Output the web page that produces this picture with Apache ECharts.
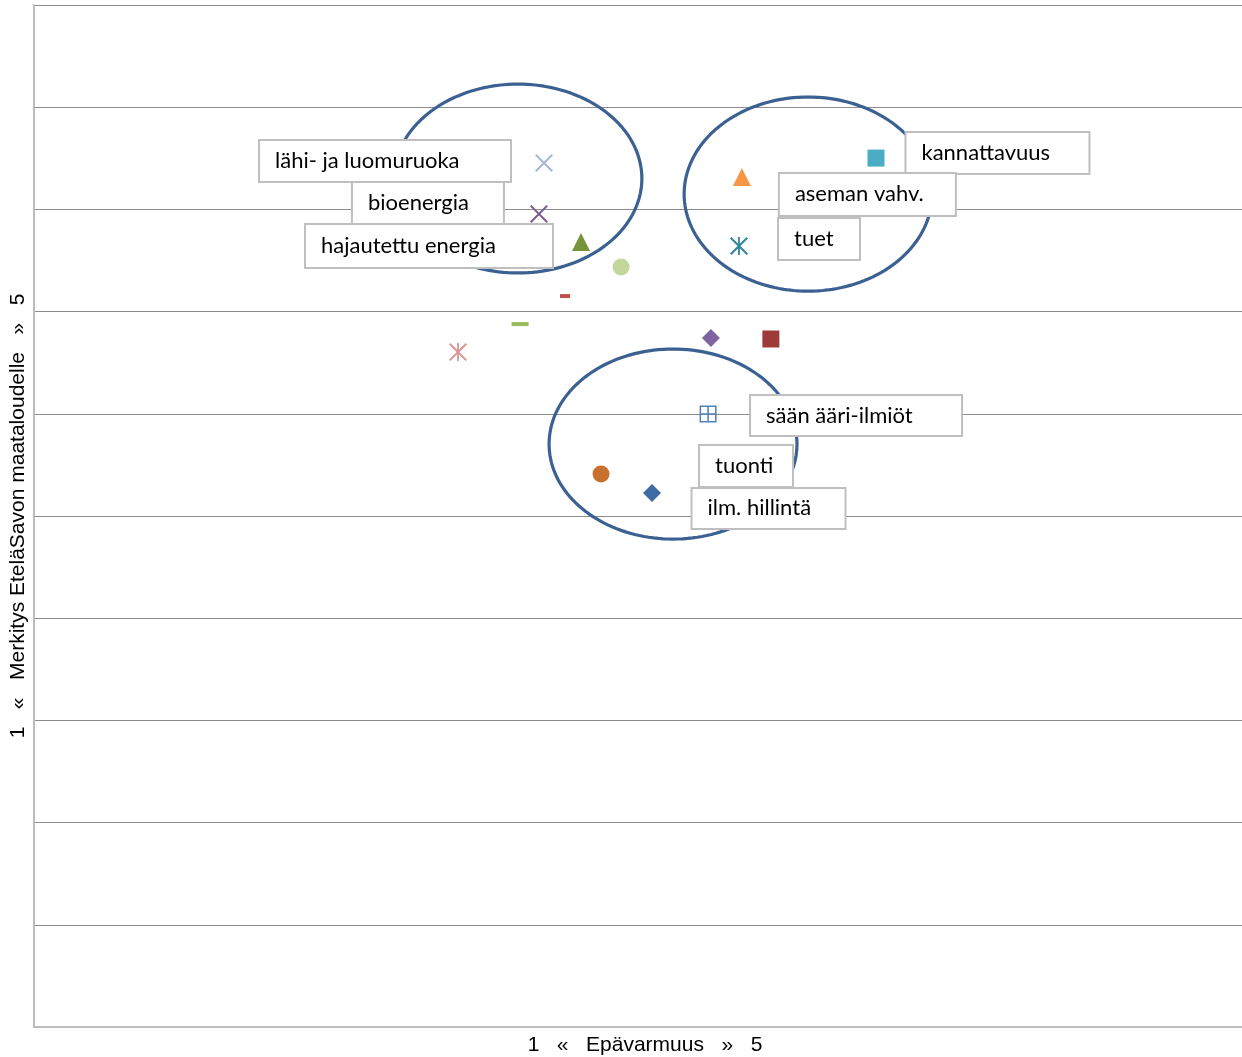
<!DOCTYPE html>
<html><head><meta charset="utf-8">
<script src="https://cdn.jsdelivr.net/npm/echarts@6/dist/echarts.min.js"></script>
<style>html,body{margin:0;padding:0;background:#fff}#c{width:1242px;height:1057px}</style>
</head><body><div id="c"></div>
<script>
// ---- data ----
const categories = ['lähi- ja luomuruoka','bioenergia','hajautettu energia','','','','','','','kannattavuus','aseman vahv.','tuet','sään ääri-ilmiöt','tuonti','ilm. hillintä'];
const xValues = [2.111,2.090,2.264,2.430,2.198,2.012,1.755,2.802,3.050,3.485,2.930,2.918,2.790,2.347,2.558];
const yValues = [4.227,3.978,3.840,3.718,3.576,3.439,3.302,3.371,3.366,4.251,4.159,3.821,2.999,2.705,2.613];
const ellipseCx = [2.003,3.204,2.645];
const ellipseCy = [4.151,4.075,2.852];
const ellipseRx = [0.513,0.513,0.513];
const ellipseRy = [0.462,0.475,0.465];
const xName = '1   «   Epävarmuus   »   5';
const yName = '1   «   Merkitys EteläSavon maataloudelle   »   5';

// ---- styles ----
const X_PATH = 'path://M0,0.8 L0.8,0 L10,9.2 L9.2,10 Z M9.2,0 L10,0.8 L0.8,10 L0,9.2 Z';
const AST_PATH = 'path://M0,0.8 L0.8,0 L10,9.2 L9.2,10 Z M9.2,0 L10,0.8 L0.8,10 L0,9.2 Z M4.5,0 L5.5,0 L5.5,10 L4.5,10 Z';
const GRID_PATH = 'path://M0,0 L10,0 L10,10 L0,10 Z M0.9,0.9 L0.9,4.55 L4.55,4.55 L4.55,0.9 Z M5.45,0.9 L5.45,4.55 L9.1,4.55 L9.1,0.9 Z M0.9,5.45 L0.9,9.1 L4.55,9.1 L4.55,5.45 Z M5.45,5.45 L5.45,9.1 L9.1,9.1 L9.1,5.45 Z';
const symbols = [X_PATH, X_PATH, 'triangle', 'circle', 'rect', 'rect', AST_PATH, 'diamond', 'rect', 'rect', 'triangle', AST_PATH, GRID_PATH, 'circle', 'diamond'];
const sizes = [18, 18, 18, 17, [10,4], [17,4], 18, 18, 17, 17, 18, 18, 17, 17, 18];
const colors = ['#a7b7db','#7b5b8f','#77933c','#c3d69b','#c0504d','#9bbb59','#d99694','#8064a2','#9d3b38','#4bacc6','#f79646','#31859c','#4f81bd','#c8702e','#3e6ba3'];
// label placement: [position, distance, dy, boxWidth, boxHeight]
const labelPlace = [
  ['left',25,-2,250,40], ['left',27,-10.5,150,41], ['left',20,4,246,42],
  null,null,null,null,null,null,
  ['right',22,-5,182,40], ['right',29,17.5,175,41], ['right',31,-7,80,40],
  ['right',34.5,1.5,210,39], ['right',90.5,-8,92,40], ['right',31.5,15.5,152,39]
];

const series = [];
series.push({
  type: 'custom', z: 1, silent: true,
  data: ellipseCx.map((c, i) => [c, ellipseCy[i], ellipseRx[i], ellipseRy[i]]),
  renderItem: function (params, api) {
    const cx = api.value(0), cy = api.value(1), rx = api.value(2), ry = api.value(3);
    const pts = [];
    for (let k = 0; k < 160; k++) {
      const t = k / 160 * Math.PI * 2;
      pts.push(api.coord([cx + rx * Math.cos(t), cy + ry * Math.sin(t)]));
    }
    return { type: 'polygon', shape: { points: pts }, style: { fill: 'none', stroke: '#3b6192', lineWidth: 3.2 } };
  }
});
categories.forEach((name, i) => {
  const lp = labelPlace[i];
  const s = {
    type: 'scatter', z: 2, name: name || ('p' + i),
    symbol: symbols[i], symbolSize: sizes[i],
    itemStyle: { color: colors[i], opacity: 1 },
    data: [[xValues[i], yValues[i]]],
    emphasis: { disabled: true }, silent: true
  };
  if (lp) {
    const W = lp[3];
    s.label = {
      show: true, formatter: name, position: lp[0], distance: lp[1],
      offset: [lp[0] === 'left' ? -W : 0, lp[2]],
      backgroundColor: '#fff', borderColor: '#bfbfbf', borderWidth: 2,
      padding: [0, 0, 0, 15], width: W - 15, lineHeight: lp[4], height: lp[4],
      align: 'left', verticalAlign: 'middle',
      fontFamily: 'Lato', fontSize: 22, color: '#000', opacity: 1
    };
  }
  series.push(s);
});

const chart = echarts.init(document.getElementById('c'), null, { renderer: 'canvas' });
chart.setOption({
  animation: false,
  grid: { left: 34, right: 0, top: 5, bottom: 30, containLabel: false, outerBoundsMode: 'none' },
  xAxis: {
    type: 'value', min: 0, max: 5,
    name: xName, nameLocation: 'middle', nameGap: 8,
    nameTextStyle: { fontFamily: 'Liberation Sans', fontSize: 21, color: '#000', padding: [0, 0, 0, 14] },
    axisLine: { show: true, lineStyle: { color: '#bcbcbc', width: 2 } },
    axisTick: { show: false }, axisLabel: { show: false }, splitLine: { show: false }
  },
  yAxis: {
    type: 'value', min: 0, max: 5, interval: 0.5,
    name: yName, nameLocation: 'middle', nameGap: 5,
    nameTextStyle: { fontFamily: 'Liberation Sans', fontSize: 21, color: '#000' },
    axisLine: { show: true, lineStyle: { color: '#bcbcbc', width: 2 } },
    axisTick: { show: false }, axisLabel: { show: false },
    splitLine: { show: true, lineStyle: { color: '#8c8c8c', width: 1 } }
  },
  series: series
});
</script></body></html>
